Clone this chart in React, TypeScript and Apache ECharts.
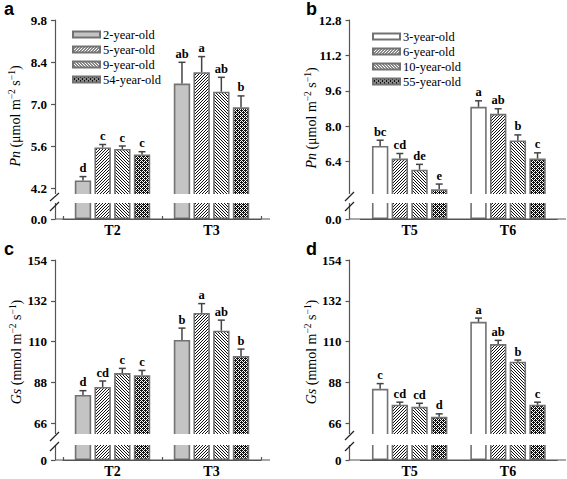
import React, { useEffect, useRef } from 'react';
import * as echarts from 'echarts';

// ---------- data ----------
const categoriesLeft = ['T2', 'T3'];
const categoriesRight = ['T5', 'T6'];
const agesLeft = ['2-year-old', '5-year-old', '9-year-old', '54-year-old'];
const agesRight = ['3-year-old', '6-year-old', '10-year-old', '55-year-old'];

// Panel a: Pn (per age: [T2, T3])
const pnA = [[4.45, 7.68], [5.55, 8.06], [5.50, 7.41], [5.32, 6.89]];
const pnAErr = [[0.13, 0.71], [0.10, 0.52], [0.10, 0.48], [0.09, 0.38]];
const pnALetters = [['d', 'ab'], ['c', 'a'], ['c', 'ab'], ['c', 'b']];

// Panel b: Pn (per age: [T5, T6])
const pnB = [[7.11, 8.88], [6.54, 8.56], [6.04, 7.36], [5.15, 6.54]];
const pnBErr = [[0.26, 0.27], [0.23, 0.23], [0.24, 0.25], [0.24, 0.26]];
const pnBLetters = [['bc', 'a'], ['cd', 'ab'], ['de', 'b'], ['e', 'c']];

// Panel c: Gs (per age: [T2, T3])
const gsC = [[81.3, 110.9], [85.6, 125.5], [93.1, 115.9], [91.9, 102.3]];
const gsCErr = [[2.3, 6.4], [3.2, 5.0], [2.5, 5.7], [2.6, 3.7]];
const gsCLetters = [['d', 'b'], ['cd', 'a'], ['c', 'ab'], ['c', 'b']];

// Panel d: Gs (per age: [T5, T6])
const gsD = [[84.6, 120.7], [76.0, 108.7], [74.9, 99.2], [69.5, 76.0]];
const gsDErr = [[2.8, 2.0], [1.4, 2.0], [1.9, 0.9], [1.6, 1.4]];
const gsDLetters = [['c', 'a'], ['cd', 'ab'], ['cd', 'b'], ['d', 'c']];

const pnATicks = [4.2, 5.6, 7.0, 8.4, 9.8];
const pnBTicks = [6.4, 8.0, 9.6, 11.2, 12.8];
const gsTicks = [66, 88, 110, 132, 154];

// ---------- styling ----------
const SERIF = '"Liberation Serif", "Times New Roman", serif';
const AXIS_COLOR = '#555';
const BAR_BORDER = '#727272';
const ERR_COLOR = '#444';
const BAR_W = 16.4;
const BAR_GAP = 0.2;
const STEP = BAR_W * (1 + BAR_GAP);

function tile(size: number, isDark: (x: number, y: number) => boolean, dark: string, light: string) {
  const c = document.createElement('canvas');
  c.width = size;
  c.height = size;
  const ctx = c.getContext('2d')!;
  ctx.fillStyle = light;
  ctx.fillRect(0, 0, size, size);
  ctx.fillStyle = dark;
  for (let y = 0; y < size; y++) for (let x = 0; x < size; x++) if (isDark(x, y)) ctx.fillRect(x, y, 1, 1);
  return { image: c.toDataURL(), repeat: 'repeat', imageWidth: size, imageHeight: size };
}

function buildOption() {
  const slash = tile(3, (x, y) => (x + y) % 3 === 2, '#111', '#fff');
  const backslash = tile(3, (x, y) => x === y, '#111', '#fff');
  const checker = tile(4, (x, y) => (x + y) % 2 === 0 || (x === 1 && y === 2) || (x === 3 && y === 0), '#111', '#fff');
  const fillsLeft: any[] = ['#c4c4c4', slash, backslash, checker];
  const fillsRight: any[] = ['#ffffff', slash, backslash, checker];

  const panels = [
    {
      values: pnA, errs: pnAErr, letters: pnALetters, names: agesLeft, cats: categoriesLeft, fills: fillsLeft,
      ticks: pnATicks, dec: 1, max: 9.8, pxPerUnit: 30,
      left: 63, width: 198, axisX: 55, axisEnd: 270, upTop: 20, upHeight: 176, lowTop: 201, lowHeight: 18,
      gapTop: 194, gapBottom: 203, xTicks: true,
      slashes: [[50, 201, 59, 193], [50, 211, 59, 202]],
      tag: 'a', tagX: 4, tagY: 0,
      nameX: 15, nameY: 116, name: '{i|Pn}{n| (μmol m}{s|−2}{n| s}{s|−1}{n|)}',
    },
    {
      values: pnB, errs: pnBErr, letters: pnBLetters, names: agesRight, cats: categoriesRight, fills: fillsRight,
      ticks: pnBTicks, dec: 1, max: 12.8, pxPerUnit: 22.14,
      left: 360.5, width: 196.7, axisX: 349.5, axisEnd: 566, upTop: 20, upHeight: 176, lowTop: 201, lowHeight: 18,
      gapTop: 194, gapBottom: 203, xTicks: false,
      slashes: [[345, 201, 354, 192], [345, 211, 354, 202]],
      tag: 'b', tagX: 306, tagY: 0,
      nameX: 311, nameY: 118, name: '{i|Pn}{n| (μmol m}{s|−2}{n| s}{s|−1}{n|)}',
    },
    {
      values: gsC, errs: gsCErr, letters: gsCLetters, names: agesLeft, cats: categoriesLeft, fills: fillsLeft,
      ticks: gsTicks, dec: 0, max: 154, pxPerUnit: 1.856,
      left: 63, width: 198, axisX: 55, axisEnd: 270, upTop: 260, upHeight: 177, lowTop: 443, lowHeight: 17,
      gapTop: 434, gapBottom: 445, xTicks: true,
      slashes: [[50, 441, 59, 432], [50, 451, 59, 442]],
      tag: 'c', tagX: 4, tagY: 240,
      nameX: 16, nameY: 352, name: '{i|Gs}{n| (mmol m}{s|−2}{n| s}{s|−1}{n|)}',
    },
    {
      values: gsD, errs: gsDErr, letters: gsDLetters, names: agesRight, cats: categoriesRight, fills: fillsRight,
      ticks: gsTicks, dec: 0, max: 154, pxPerUnit: 1.856,
      left: 360.5, width: 196.7, axisX: 349.5, axisEnd: 566, upTop: 260, upHeight: 177, lowTop: 443, lowHeight: 17,
      gapTop: 434, gapBottom: 445, xTicks: false,
      slashes: [[345, 440, 354, 431], [345, 451, 354, 442]],
      tag: 'd', tagX: 306, tagY: 240,
      nameX: 311, nameY: 352, name: '{i|Gs}{n| (mmol m}{s|−2}{n| s}{s|−1}{n|)}',
    },
  ];

  const grid: any[] = [];
  const xAxis: any[] = [];
  const yAxis: any[] = [];
  const series: any[] = [];
  const graphic: any[] = [];
  const axisLineStyle = { color: AXIS_COLOR, width: 1.2 };
  const tickLabel = { color: '#000', fontSize: 13, fontWeight: 'bold', fontFamily: SERIF };

  panels.forEach((p, pi) => {
    const up = pi * 2;
    const low = pi * 2 + 1;
    const right = 567 - p.left - p.width;
    grid.push({ left: p.left, right, top: p.upTop, height: p.upHeight });
    grid.push({ left: p.left, right, top: p.lowTop, height: p.lowHeight });

    xAxis.push({ type: 'category', gridIndex: up, data: p.cats, show: false });
    xAxis.push({
      type: 'category', gridIndex: low, data: p.cats,
      axisLine: { show: true, lineStyle: axisLineStyle },
      axisTick: { show: p.xTicks, inside: true, length: 3, lineStyle: axisLineStyle },
      axisLabel: { margin: 4, color: '#000', fontSize: 14, fontWeight: 'bold', fontFamily: SERIF },
    });

    const upMin = p.max - p.upHeight / p.pxPerUnit;
    const offset = p.left - p.axisX;
    yAxis.push({
      type: 'value', gridIndex: up, min: upMin, max: p.max, offset,
      splitLine: { show: false },
      axisLine: { show: true, lineStyle: axisLineStyle },
      axisTick: { show: true, length: 4, customValues: p.ticks, lineStyle: axisLineStyle },
      axisLabel: {
        ...tickLabel, customValues: p.ticks, margin: 8,
        formatter: (v: number) => v.toFixed(p.dec),
      },
    });
    yAxis.push({
      type: 'value', gridIndex: low, min: 0, max: 1, offset,
      splitLine: { show: false },
      axisLine: { show: true, lineStyle: axisLineStyle },
      axisTick: { show: true, length: 4, customValues: [0], lineStyle: axisLineStyle },
      axisLabel: {
        ...tickLabel, customValues: [0], margin: 8,
        formatter: (v: number) => v.toFixed(p.dec),
      },
    });

    [up, low].forEach((gi) => {
      p.names.forEach((name, k) => {
        series.push({
          type: 'bar', name, xAxisIndex: gi, yAxisIndex: gi,
          data: p.values[k], barWidth: BAR_W, barGap: `${BAR_GAP * 100}%`,
          clip: true, silent: true,
          itemStyle: { color: p.fills[k], borderColor: BAR_BORDER, borderWidth: 1.6 },
        });
      });
    });

    const errData: number[][] = [];
    p.values.forEach((vals, k) => vals.forEach((v, c) => errData.push([c, v, p.errs[k][c], k])));
    const letters = p.letters;
    series.push({
      type: 'custom', xAxisIndex: up, yAxisIndex: up, silent: true, z: 5,
      data: errData,
      renderItem: (params: any, api: any) => {
        const c = api.value(0);
        const v = api.value(1);
        const e = api.value(2);
        const k = api.value(3);
        const p0 = api.coord([c, v]);
        const p1 = api.coord([c, v + e]);
        const x = p0[0] + (k - 1.5) * STEP;
        const ls = { stroke: ERR_COLOR, lineWidth: 1.5 };
        return {
          type: 'group',
          children: [
            { type: 'line', shape: { x1: x, y1: p0[1], x2: x, y2: p1[1] }, style: ls },
            { type: 'line', shape: { x1: x - 3.5, y1: p1[1], x2: x + 3.5, y2: p1[1] }, style: ls },
            {
              type: 'text', x, y: p1[1] - 2,
              style: { text: letters[k][c], fill: '#000', font: `bold 12.5px ${SERIF}`, align: 'center', verticalAlign: 'bottom' },
            },
          ],
        };
      },
    });

    // break gap
    graphic.push({
      type: 'rect', z: 100, silent: true,
      shape: { x: p.axisX - 5, y: p.gapTop, width: p.axisEnd - p.axisX + 8, height: p.gapBottom - p.gapTop },
      style: { fill: '#fff' },
    });
    p.slashes.forEach((s) => {
      graphic.push({
        type: 'line', z: 101, silent: true,
        shape: { x1: s[0], y1: s[1], x2: s[2], y2: s[3] },
        style: { stroke: '#222', lineWidth: 1.2 },
      });
    });
    graphic.push({
      type: 'line', z: 101, silent: true,
      shape: { x1: p.axisX, y1: p.lowTop + p.lowHeight, x2: p.axisEnd, y2: p.lowTop + p.lowHeight },
      style: { stroke: AXIS_COLOR, lineWidth: 1.2 },
    });
    graphic.push({
      type: 'text', z: 101, x: p.tagX, y: p.tagY, silent: true,
      style: { text: p.tag, font: 'bold 18px "Liberation Sans", Arial, sans-serif', fill: '#000', verticalAlign: 'top' },
    });
    graphic.push({
      type: 'text', z: 101, x: p.nameX, y: p.nameY, rotation: Math.PI / 2, silent: true,
      style: {
        text: p.name, fill: '#000', fontSize: 14, fontFamily: SERIF, align: 'center', verticalAlign: 'middle',
        rich: {
          i: { fontStyle: 'italic', fontSize: 14, fontFamily: SERIF, lineHeight: 17 },
          n: { fontSize: 14, fontFamily: SERIF, lineHeight: 17 },
          s: { fontSize: 9.5, fontFamily: SERIF, lineHeight: 9, verticalAlign: 'top' },
        },
      },
    });
  });

  const legendBase = {
    orient: 'vertical', itemWidth: 27, itemHeight: 6, itemGap: 2, icon: 'rect', selectedMode: false, padding: 0,
    textStyle: { fontFamily: SERIF, fontSize: 12.5, color: '#000', lineHeight: 13, padding: [0, 0, 0, -2] },
  };

  return {
    animation: false,
    backgroundColor: '#fff',
    grid,
    xAxis,
    yAxis,
    series,
    graphic,
    legend: [
      { ...legendBase, data: agesLeft, left: 72, top: 28 },
      { ...legendBase, data: agesRight, left: 372, top: 30 },
    ],
  };
}

export default function App() {
  const ref = useRef<HTMLDivElement>(null);
  useEffect(() => {
    const chart = echarts.init(ref.current!, null, { renderer: 'svg' });
    chart.setOption(buildOption() as any);
    return () => chart.dispose();
  }, []);
  return (
    <div
      ref={ref}
      style={{ position: 'fixed', left: 0, top: 0, width: 567, height: 479, background: '#fff' }}
    />
  );
}
